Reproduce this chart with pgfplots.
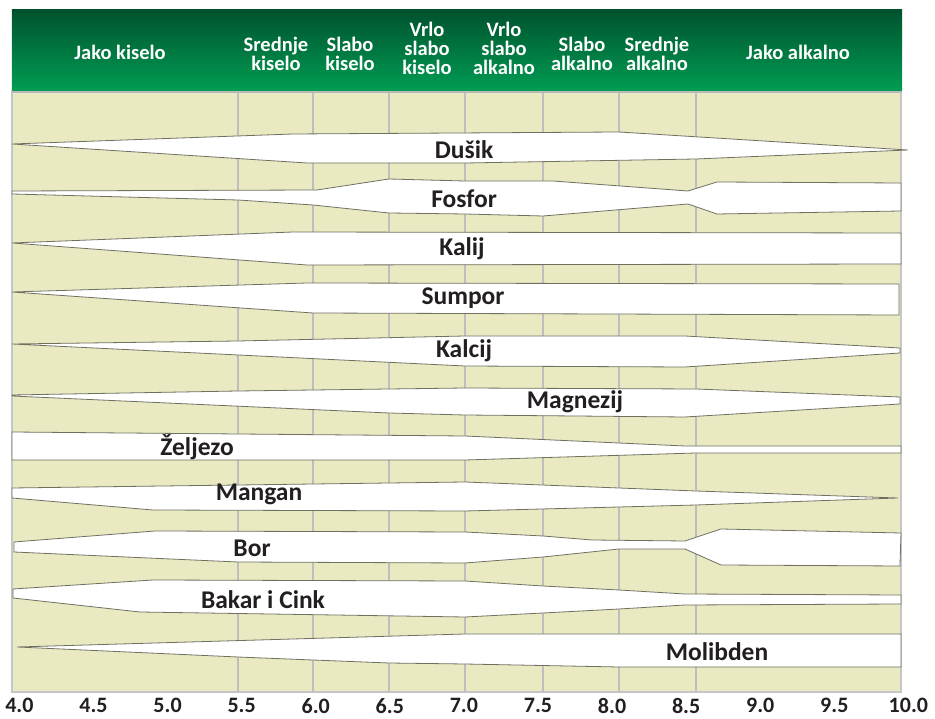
\documentclass[border=0pt]{standalone}
\usepackage{fontspec}
\setmainfont{Carlito}
\usepackage{pgfplots}
\pgfplotsset{compat=1.18}
\usetikzlibrary{shadings}
\definecolor{bgc}{RGB}{233,234,194}
\definecolor{gridc}{RGB}{190,190,190}
\definecolor{bandc}{RGB}{112,112,96}
\definecolor{hdtop}{RGB}{0,82,46}
\definecolor{hdbot}{RGB}{0,158,84}
\definecolor{txt}{RGB}{35,31,32}
\newcommand{\tickfont}{\fontsize{22}{23}\selectfont\bfseries}
\begin{document}
\begin{tikzpicture}
\useasboundingbox (-12pt,-26pt) rectangle (923pt,692pt);
\begin{axis}[
  at={(0,0)}, anchor=south west,
  scale only axis, width=889pt, height=600pt,
  xmin=3.95, xmax=9.95, ymin=0, ymax=600,
  axis background/.style={fill=bgc},
  axis line style={draw=gray!45, line width=1.2pt},
  ytick=\empty,
  xtick={4,4.5,5,5.5,6,6.5,7,7.5,8,8.5,9,9.5},
  xticklabels={4.0,4.5,5.0,5.5,6.0,6.5,7.0,7.5,8.0,8.5,9.0,9.5},
  xticklabel style={font=\tickfont, text=txt, anchor=north, yshift=-4pt, inner sep=2pt},
  major tick length=0pt,
  extra x ticks={5.475,5.981,6.494,7.007,7.534,8.047,8.566},
  extra x tick labels={},
  extra x tick style={grid=major, major grid style={draw=gridc, line width=1.6pt}},
  clip=false,
  band/.style={fill=white, draw=bandc, line width=0.8pt, mark=none},
]
% Dusik
\addplot[band] coordinates {(3.950,548) (5.846,558) (8.047,560) (9.997,542) (8.566,533) (7.007,529) (5.941,529) (3.950,548)} -- cycle;
% Fosfor
\addplot[band] coordinates {(3.950,501) (6.008,502) (6.494,513) (7.007,511) (7.601,511) (8.512,501) (8.708,510) (9.950,509) (9.950,481) (8.708,478) (8.512,488) (7.534,476) (7.007,478) (6.494,479) (5.981,487) (5.475,492) (3.950,498)} -- cycle;
% Kalij
\addplot[band] coordinates {(3.950,449) (5.846,460) (9.950,459) (9.950,428) (5.941,427) (3.950,449)} -- cycle;
% Sumpor
\addplot[band] coordinates {(3.950,400) (5.941,409) (9.936,408) (9.936,377) (5.981,379) (3.950,400)} -- cycle;
% Kalcij
\addplot[band] coordinates {(3.950,348) (5.475,351) (7.007,356) (8.492,356) (9.943,344) (9.943,339) (8.492,325) (7.007,326) (3.950,348)} -- cycle;
% Magnezij
\addplot[band] coordinates {(3.950,297) (5.475,301) (7.007,304) (8.566,303) (9.943,295) (9.943,288) (8.492,275) (7.007,277) (6.494,279) (3.950,296)} -- cycle;
% Zeljezo
\addplot[band] coordinates {(3.950,260) (7.007,256) (8.492,246) (9.950,246) (9.950,239) (8.566,239) (7.007,232) (3.950,232)} -- cycle;
% Mangan
\addplot[band] coordinates {(3.950,204) (5.475,207) (7.007,210) (8.566,201) (9.930,194) (8.566,187) (7.007,181) (4.902,182) (3.950,194)} -- cycle;
% Bor
\addplot[band] coordinates {(3.963,150) (4.915,161) (7.007,160) (7.534,156) (7.864,152) (8.492,151) (8.735,163) (9.950,159) (9.943,126) (8.735,127) (8.492,143) (8.047,143) (7.534,135) (7.007,129) (5.475,130) (3.963,140)} -- cycle;
% Bakar i Cink
\addplot[band] coordinates {(3.957,103) (4.902,112) (7.007,111) (7.534,106) (8.047,102) (8.492,98) (9.950,97) (9.950,88) (8.492,87) (8.047,83) (7.534,79) (7.007,75) (4.814,80) (3.957,94)} -- cycle;
% Molibden
\addplot[band] coordinates {(3.984,45) (7.007,58) (9.950,58) (9.950,25) (8.047,25) (7.007,28) (6.494,29) (5.981,32) (5.475,35) (3.984,45)} -- cycle;

\begin{scope}[every node/.style={font=\fontsize{25.5}{27}\selectfont\bfseries, text=txt}]
\node at (axis cs:7.001,542) {Dušik};
\node at (axis cs:7.001,493) {Fosfor};
\node at (axis cs:6.987,443) {Kalij};
\node at (axis cs:6.994,394) {Sumpor};
\node at (axis cs:7.001,341) {Kalcij};
\node at (axis cs:7.750,290) {Magnezij};
\node at (axis cs:5.199,245) {Željezo};
\node at (axis cs:5.617,198) {Mangan};
\node at (axis cs:5.570,144) {Bor};
\node at (axis cs:5.644,92) {Bakar i Cink};
\node at (axis cs:8.708,40) {Molibden};
\end{scope}
\node[font=\tickfont, text=txt, anchor=north, yshift=-4pt, inner sep=2pt] at (axis cs:10,0) {10.0};
\end{axis}
% header band
\shade[top color=hdtop, bottom color=hdbot] (0pt,600pt) rectangle (890pt,682pt);
\draw[gray!55, line width=1.2pt] (0pt,600pt) -- (890pt,600pt);
\begin{scope}[every node/.style={font=\fontsize{20.5}{19}\selectfont\bfseries, text=white, align=center, inner sep=1pt}]
\node at (108pt,640pt) {Jako kiselo};
\node at (264pt,638pt) {Srednje\\kiselo};
\node at (338pt,638pt) {Slabo\\kiselo};
\node at (415pt,644pt) {Vrlo\\slabo\\kiselo};
\node at (492pt,644pt) {Vrlo\\slabo\\alkalno};
\node at (570pt,638pt) {Slabo\\alkalno};
\node at (645pt,638pt) {Srednje\\alkalno};
\node at (786pt,640pt) {Jako alkalno};
\end{scope}
\end{tikzpicture}
\end{document}
